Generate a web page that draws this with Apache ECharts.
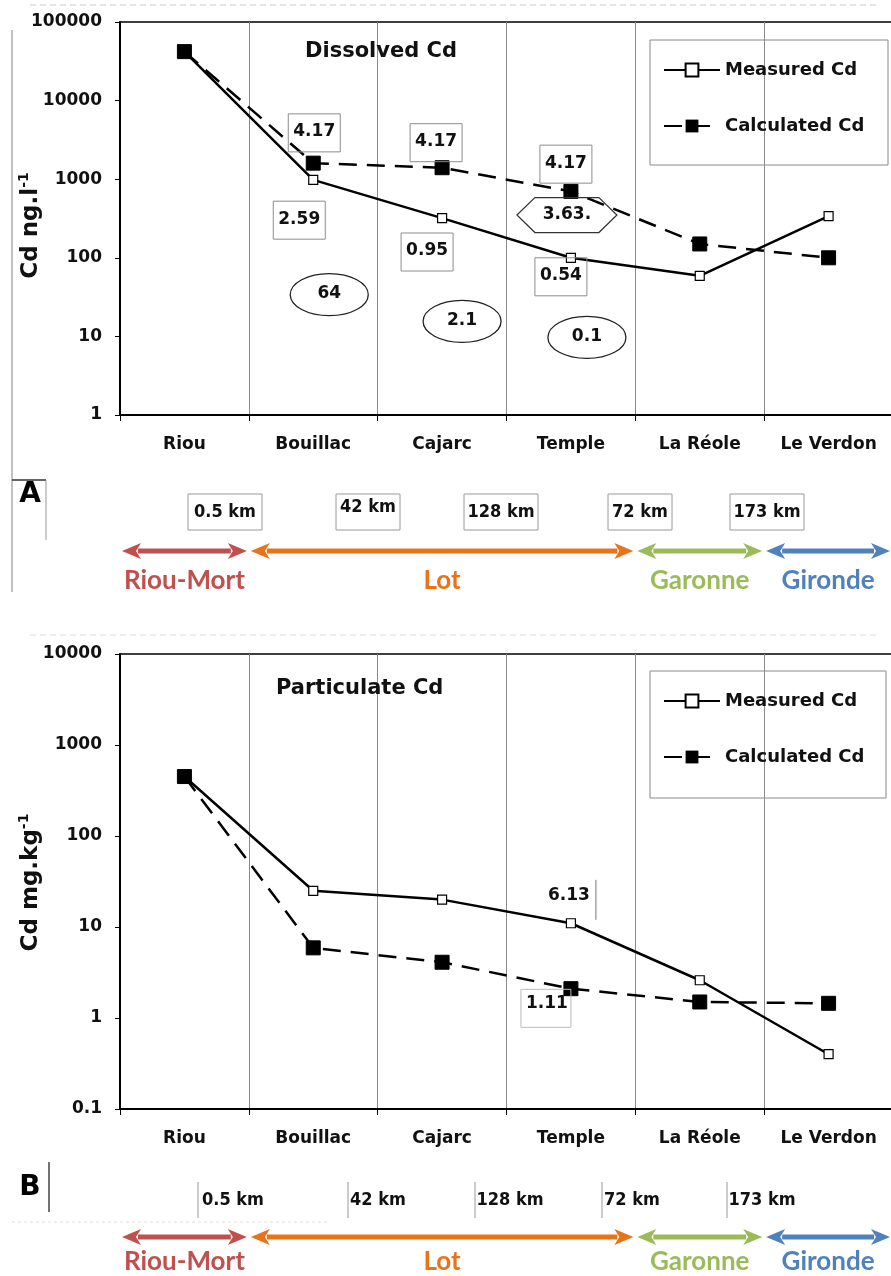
<!DOCTYPE html>
<html>
<head>
<meta charset="utf-8">
<script src="https://cdn.jsdelivr.net/npm/echarts@6/dist/echarts.min.js"></script>
<style>
html,body{margin:0;padding:0;background:#fff;}
#chart{width:891px;height:1276px;}
</style>
</head>
<body>
<div id="chart"></div>
<script>
// ---------- data ----------
const categories = ['Riou', 'Bouillac', 'Cajarc', 'Temple', 'La Réole', 'Le Verdon'];
const dissolvedMeasured = [42000, 980, 320, 100, 59, 340];
const dissolvedCalculated = [42000, 1600, 1400, 700, 150, 100];
const particulateMeasured = [450, 25, 20, 11, 2.6, 0.4];
const particulateCalculated = [450, 5.9, 4.1, 2.1, 1.5, 1.45];
const seriesNames = ['Measured Cd', 'Calculated Cd'];
const panelTitles = ['Dissolved Cd', 'Particulate Cd'];
const yAxisTitles = [['Cd ng.l', '-1'], ['Cd mg.kg', '-1']];
const panelLetters = ['A', 'B'];
const distances = ['0.5 km', '42 km', '128 km', '72 km', '173 km'];
const reaches = ['Riou-Mort', 'Lot', 'Garonne', 'Gironde'];
const reachBounds = [[0, 1], [1, 4], [4, 5], [5, 6]]; // category boundaries
const dissolvedNotes = ['4.17', '2.59', '64', '4.17', '0.95', '2.1', '4.17', '3.63.', '0.54', '0.1'];
const particulateNotes = ['6.13', '1.11'];

const FONT = '"DejaVu Sans", "Liberation Sans", sans-serif';
const CFONT = '"DejaVu Sans Condensed", "DejaVu Sans", sans-serif';
const chart = echarts.init(document.getElementById('chart'));

function xAxis(gi) {
  return {
    type: 'category', gridIndex: gi, data: categories, boundaryGap: true,
    axisLine: {lineStyle: {color: '#000', width: 2}},
    axisTick: {show: true, interval: 0, length: 6, lineStyle: {color: '#000'}},
    axisLabel: {interval: 0, margin: 21, color: '#111', fontFamily: FONT, fontWeight: 'bold', fontSize: 17},
    splitLine: {show: true, interval: 0, lineStyle: {color: '#8a8a8a', width: 1}}
  };
}
function yAxis(gi, min, max) {
  return {
    type: 'log', logBase: 10, gridIndex: gi, min: min, max: max,
    axisLine: {show: true, lineStyle: {color: '#000', width: 2}},
    axisTick: {show: true, length: 5, lineStyle: {color: '#000'}},
    minorTick: {show: false},
    axisLabel: {margin: 18, color: '#111', fontFamily: FONT, fontWeight: 'bold', fontSize: 17,
      formatter: v => String(+Number(v).toPrecision(6))},
    splitLine: {show: false}
  };
}
function lineSeries(gi, name, data, filled) {
  return {
    type: 'line', name: name, xAxisIndex: gi, yAxisIndex: gi, data: data,
    symbol: 'rect', symbolSize: filled ? 14 : 9,
    z: filled ? 4 : 3,
    lineStyle: {color: '#000', width: 2.5, type: filled ? [18, 10] : 'solid'},
    itemStyle: filled ? {color: '#000', borderColor: '#000'} : {color: '#fff', borderColor: '#000', borderWidth: 1.2},
    emphasis: {disabled: true}, animation: false
  };
}
function legend(top) {
  return {
    orient: 'vertical', left: 663, top: top, itemGap: 38, padding: 0,
    itemWidth: 56, itemHeight: 16,
    textStyle: {fontFamily: FONT, fontWeight: 'bold', fontSize: 18, color: '#111'},
    data: seriesNames
  };
}

chart.setOption({
  animation: false,
  backgroundColor: '#fff',
  grid: [
    {left: 120, top: 22, width: 773, height: 393, show: true, borderColor: '#000', borderWidth: 1.5, backgroundColor: 'transparent', containLabel: false, outerBoundsMode: 'none'},
    {left: 120, top: 654, width: 773, height: 455, show: true, borderColor: '#000', borderWidth: 1.5, backgroundColor: 'transparent', containLabel: false, outerBoundsMode: 'none'}
  ],
  title: [
    {text: panelTitles[0], left: 305, top: 41, padding: 0, textStyle: {fontFamily: FONT, fontWeight: 'bold', fontSize: 21, color: '#111'}},
    {text: panelTitles[1], left: 276, top: 678, padding: 0, textStyle: {fontFamily: FONT, fontWeight: 'bold', fontSize: 21, color: '#111'}}
  ],
  legend: [legend(61), legend(692)],
  xAxis: [xAxis(0), xAxis(1)],
  yAxis: [yAxis(0, 1, 100000), yAxis(1, 0.1, 10000)],
  series: [
    lineSeries(0, seriesNames[0], dissolvedMeasured, false),
    lineSeries(0, seriesNames[1], dissolvedCalculated, true),
    lineSeries(1, seriesNames[0], particulateMeasured, false),
    lineSeries(1, seriesNames[1], particulateCalculated, true)
  ]
});

// ---------- annotations positioned through the axes ----------
const g = [];
function px(gi, cat) { return chart.convertToPixel({xAxisIndex: gi}, cat); }
function py(gi, val) { return chart.convertToPixel({yAxisIndex: gi}, val); }
function text(x, y, t, opt) {
  opt = opt || {};
  g.push({type: 'text', x: x, y: y, z: 20, silent: true, style: {
    text: t, fill: opt.color || '#111', font: (opt.weight || 'bold') + ' ' + (opt.size || 16) + 'px ' + (opt.family || FONT),
    textAlign: opt.align || 'center', textVerticalAlign: 'middle', verticalAlign: 'middle'}});
}
function rect(x, y, w, h, stroke, lw) {
  g.push({type: 'rect', z: 19, silent: true, shape: {x: x, y: y, width: w, height: h}, style: {fill: 'none', stroke: stroke || '#8c8c8c', lineWidth: lw || 1}});
}
function seg(x1, y1, x2, y2, stroke, lw, dash) {
  g.push({type: 'line', z: 19, silent: true, shape: {x1: x1, y1: y1, x2: x2, y2: y2}, style: {stroke: stroke || '#888', lineWidth: lw || 1, lineDash: dash || null}});
}
function ellipse(cx, cy, rx, ry) {
  g.push({type: 'ellipse', z: 19, silent: true, shape: {cx: cx, cy: cy, rx: rx, ry: ry}, style: {fill: 'none', stroke: '#222', lineWidth: 1.3}});
}
function hexagon(cx, cy, w, h) {
  const a = w / 2, b = h / 2, c = w * 0.3;
  g.push({type: 'polygon', z: 19, silent: true, shape: {points: [
    [cx - a, cy], [cx - a + c * 0.6, cy - b], [cx + a - c * 0.6, cy - b], [cx + a, cy], [cx + a - c * 0.6, cy + b], [cx - a + c * 0.6, cy + b]]},
    style: {fill: 'none', stroke: '#333', lineWidth: 1.2}});
}

// y-axis titles (rotated, with superscript)
[[0, 1, 100000, 7], [1, 0.1, 10000, 1]].forEach(a => {
  const gi = a[0];
  const cy = (py(gi, a[1]) + py(gi, a[2])) / 2 + a[3];
  g.push({type: 'text', x: 31, y: cy, rotation: Math.PI / 2, z: 20, silent: true, style: {
    text: '{a|' + yAxisTitles[gi][0] + '}{s|' + yAxisTitles[gi][1] + '}',
    align: 'center', verticalAlign: 'middle', textAlign: 'center', textVerticalAlign: 'middle',
    rich: {
      a: {fontFamily: FONT, fontWeight: 'bold', fontSize: 23, fill: '#111', color: '#111', lineHeight: 28},
      s: {fontFamily: FONT, fontWeight: 'bold', fontSize: 14, fill: '#111', color: '#111', lineHeight: 28, verticalAlign: 'top', padding: [0, 0, 10, 0]}
    }}});
});

// dissolved panel notes: [category, value anchor, dx, shape]
const dLayout = [
  [1, 4000, 1, 'box'], [1, 310, -14, 'box'], [1, 35, 16, 'ellipse'],
  [2, 3000, -6, 'box'], [2, 122, -15, 'box'], [2, 16, 20, 'ellipse'],
  [3, 1600, -5, 'box'], [3, 350, -4, 'hex'], [3, 59, -10, 'box'], [3, 10, 16, 'ellipse']
];
dLayout.forEach((l, i) => {
  const x = px(0, l[0]) + l[2], y = py(0, l[1]);
  text(x, y, dissolvedNotes[i], {size: 17});
  if (l[3] === 'box') rect(x - 26, y - 18, 52, 38);
  else if (l[3] === 'ellipse') ellipse(x, y + 1, 39, 21);
  else hexagon(x, y, 100, 35);
});
// particulate notes
{
  const x1 = px(1, 3) - 2, y1 = py(1, 22);
  text(x1, y1, particulateNotes[0], {size: 17});
  seg(x1 + 27, y1 - 16, x1 + 27, y1 + 24, '#777', 1);
  const x2 = px(1, 3) - 24, y2 = py(1, 1.45);
  text(x2, y2, particulateNotes[1], {size: 17});
  rect(x2 - 26, y2 - 14, 50, 38, '#bbb', 1);
}

// legend frames
rect(650, 40, 238, 125, '#888', 1);
rect(650, 671, 236, 127, '#888', 1);

// distance boxes, arrows and reach names
const colors = ['#C0504D', '#E8731A', '#9BBB59', '#4F81BD'];
function arrow(x1, x2, y, color) {
  const hl = 19, hw = 8;
  g.push({type: 'line', z: 18, silent: true, shape: {x1: x1 + hl - 3, y1: y, x2: x2 - hl + 3, y2: y}, style: {stroke: color, lineWidth: 5}});
  g.push({type: 'polygon', z: 18, silent: true, shape: {points: [[x1, y], [x1 + hl, y - hw], [x1 + hl - 5, y], [x1 + hl, y + hw]]}, style: {fill: color}});
  g.push({type: 'polygon', z: 18, silent: true, shape: {points: [[x2, y], [x2 - hl, y - hw], [x2 - hl + 5, y], [x2 - hl, y + hw]]}, style: {fill: color}});
}
function boundary(gi, b) {
  const c0 = px(gi, 0), c1 = px(gi, 1), bw = c1 - c0;
  return c0 - bw / 2 + b * bw;
}

[0, 1].forEach(gi => {
  const yDist = gi === 0 ? 512 : 1200;
  const yArr = gi === 0 ? 551 : 1237;
  const yName = gi === 0 ? 581 : 1262;
  const dx = gi === 0 ? [225, 368, 501, 640, 767] : [233, 378, 510, 632, 762];
  distances.forEach((d, i) => {
    text(dx[i], yDist - (gi === 0 && i === 1 ? 5 : 0), d, {size: 18, family: CFONT});
    const w = d.length * 10 + 14;
    if (gi === 0) rect(dx[i] - w / 2, yDist - 18, w, 36, '#9a9a9a', 1);
    else seg(dx[i] - w / 2 + 2, yDist - 18, dx[i] - w / 2 + 2, yDist + 18, '#999', 1);
  });
  reaches.forEach((r, i) => {
    let x1 = boundary(gi, reachBounds[i][0]) + 2, x2 = boundary(gi, reachBounds[i][1]) - 2;
    if (i === 3) x2 = 890;
    arrow(x1, x2, yArr, colors[i]);
    text((x1 + x2) / 2, yName, r, {color: colors[i], size: 26, weight: 'bold', family: 'Lato, "Open Sans", sans-serif'});
  });
  text(30, gi === 0 ? 495 : 1188, panelLetters[gi], {size: 28, color: '#000'});
});

// panel frame fragments
seg(12, 30, 12, 592, '#999', 1.2);
seg(12, 480, 46, 480, '#333', 1.5);
seg(46, 480, 46, 540, '#999', 1);
seg(30, 5, 880, 5, '#ccc', 1, [6, 4]);
seg(49, 1162, 49, 1212, '#444', 1.5);
seg(12, 1222, 330, 1222, '#ddd', 1, [3, 3]);
seg(30, 635, 880, 635, '#ddd', 1, [6, 4]);

chart.setOption({graphic: {elements: g}});
</script>
</body>
</html>
